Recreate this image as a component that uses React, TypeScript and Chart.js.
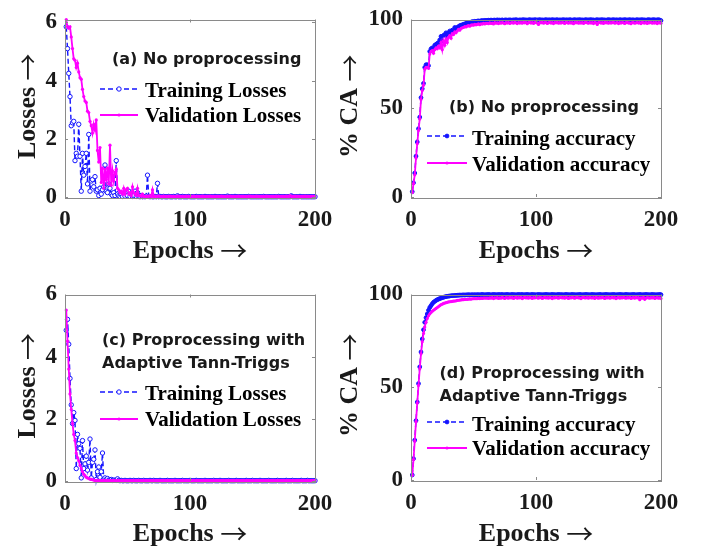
import React, { useEffect, useRef } from "react";
import { Chart, registerables } from "chart.js";
Chart.register(...registerables);

// ---------------- DATA ----------------
const EPOCHS: number[] = Array.from({ length: 200 }, (_, i) => i + 1);
const X_TICKS = [0, 100, 200];
const LOSS_TICKS = [0, 2, 4, 6];
const ACC_TICKS = [0, 50, 100];

const TRAIN_LOSS_A = [
  5.85, 5.10, 4.25, 3.45, 2.45, 2.55, 2.60, 1.25, 1.50, 1.40,
  2.50, 1.40, 0.20, 1.50, 0.75, 1.05, 1.50, 0.45, 2.15, 0.20,
  0.55, 0.60, 0.35, 0.70, 0.20, 0.25, 0.05, 0.30, 0.10, 0.25,
  0.35, 1.10, 0.20, 0.15, 0.45, 0.30, 0.10, 0.05, 0.15, 0.05,
  1.25, 0.10, 0.05, 0.02, 0.08, 0.02, 0.10, 0.03, 0.15, 0.05,
  0.20, 0.02, 0.10, 0.02, 0.05, 0.20, 0.02, 0.15, 0.02, 0.01,
  0.05, 0.01, 0.02, 0.01, 0.03, 0.75, 0.02, 0.01, 0.02, 0.01,
  0.01, 0.02, 0.01, 0.47, 0.01, 0.02, 0.01, 0.01, 0.02, 0.01,
  0.01, 0.01, 0.02, 0.01, 0.01, 0.01, 0.02, 0.01, 0.01, 0.04,
  0.01, 0.01, 0.01, 0.02, 0.01, 0.01, 0.01, 0.01, 0.02, 0.01,
  0.01, 0.01, 0.01, 0.01, 0.02, 0.01, 0.01, 0.01, 0.01, 0.01,
  0.01, 0.02, 0.01, 0.01, 0.01, 0.01, 0.01, 0.01, 0.01, 0.02,
  0.01, 0.01, 0.01, 0.01, 0.01, 0.01, 0.01, 0.01, 0.01, 0.03,
  0.01, 0.01, 0.01, 0.01, 0.01, 0.02, 0.01, 0.01, 0.01, 0.01,
  0.01, 0.01, 0.01, 0.01, 0.01, 0.01, 0.02, 0.01, 0.01, 0.01,
  0.01, 0.01, 0.01, 0.01, 0.01, 0.01, 0.01, 0.01, 0.02, 0.01,
  0.01, 0.01, 0.01, 0.01, 0.01, 0.01, 0.01, 0.01, 0.01, 0.01,
  0.02, 0.01, 0.01, 0.01, 0.01, 0.01, 0.01, 0.01, 0.01, 0.01,
  0.04, 0.01, 0.01, 0.01, 0.01, 0.01, 0.01, 0.02, 0.01, 0.01,
  0.01, 0.01, 0.01, 0.01, 0.01, 0.01, 0.01, 0.01, 0.01, 0.01,
];

const VAL_LOSS_A = [
  6.10, 5.85, 5.80, 5.85, 5.50, 5.10, 4.75, 4.70, 4.45, 4.60,
  4.30, 4.10, 4.05, 3.70, 3.45, 3.30, 3.25, 2.95, 2.90, 2.60,
  2.45, 2.20, 2.50, 2.30, 2.65, 1.60, 1.20, 1.70, 0.50, 1.00,
  0.30, 0.95, 0.60, 1.00, 0.45, 1.78, 0.40, 0.90, 0.55, 0.85,
  0.95, 0.30, 0.25, 0.15, 0.20, 0.10, 0.30, 0.10, 0.25, 0.30,
  0.10, 0.15, 0.05, 0.35, 0.15, 0.10, 0.05, 0.30, 0.05, 0.05,
  0.03, 0.10, 0.03, 0.02, 0.02, 0.03, 0.02, 0.05, 0.02, 0.25,
  0.02, 0.03, 0.02, 0.02, 0.04, 0.02, 0.02, 0.02, 0.03, 0.02,
  0.02, 0.02, 0.02, 0.03, 0.02, 0.02, 0.02, 0.02, 0.02, 0.02,
  0.03, 0.02, 0.02, 0.02, 0.02, 0.02, 0.03, 0.02, 0.02, 0.02,
  0.02, 0.02, 0.03, 0.02, 0.02, 0.02, 0.02, 0.02, 0.02, 0.03,
  0.02, 0.02, 0.02, 0.02, 0.02, 0.03, 0.02, 0.02, 0.02, 0.02,
  0.02, 0.02, 0.02, 0.02, 0.03, 0.02, 0.02, 0.02, 0.02, 0.02,
  0.02, 0.03, 0.02, 0.02, 0.02, 0.02, 0.02, 0.02, 0.03, 0.02,
  0.02, 0.02, 0.02, 0.02, 0.02, 0.02, 0.02, 0.03, 0.02, 0.02,
  0.02, 0.02, 0.03, 0.02, 0.02, 0.02, 0.02, 0.02, 0.02, 0.02,
  0.03, 0.02, 0.02, 0.02, 0.02, 0.02, 0.02, 0.02, 0.03, 0.02,
  0.02, 0.02, 0.02, 0.02, 0.02, 0.02, 0.03, 0.02, 0.02, 0.05,
  0.02, 0.02, 0.02, 0.03, 0.02, 0.02, 0.02, 0.02, 0.02, 0.02,
  0.02, 0.03, 0.02, 0.02, 0.02, 0.02, 0.02, 0.02, 0.02, 0.02,
];

const TRAIN_ACC_B = [
  3.0, 8.0, 13.5, 23.0, 31.0, 38.5, 45.0, 56.0, 61.0, 64.0,
  73.0, 74.5, 74.5, 74.0, 82.0, 83.5, 84.0, 83.5, 85.5, 86.0,
  86.5, 87.0, 88.5, 90.5, 88.0, 91.0, 91.5, 92.5, 90.5, 92.5,
  93.5, 92.0, 94.0, 93.5, 95.5, 94.5, 95.5, 96.0, 96.5, 96.8,
  97.0, 97.3, 97.5, 97.8, 98.0, 98.3, 98.2, 98.5, 98.8, 98.7,
  99.0, 98.9, 99.1, 99.2, 99.0, 99.3, 99.4, 99.3, 99.5, 99.4,
  99.5, 99.6, 99.4, 99.7, 99.5, 99.6, 99.7, 99.5, 99.8, 99.6,
  99.7, 99.6, 99.8, 99.5, 99.7, 99.8, 99.6, 99.7, 99.8, 99.7,
  99.6, 99.8, 99.7, 99.9, 99.7, 99.6, 99.8, 99.7, 99.8, 99.9,
  99.7, 99.8, 99.6, 99.8, 99.9, 99.7, 99.8, 99.7, 99.9, 99.8,
  99.7, 99.8, 99.9, 99.7, 99.8, 99.6, 99.8, 99.9, 99.7, 99.8,
  99.8, 99.7, 99.9, 99.8, 99.7, 99.8, 99.9, 99.6, 99.8, 99.7,
  99.8, 99.9, 99.7, 99.8, 99.8, 99.7, 99.9, 99.8, 99.6, 99.8,
  99.9, 99.7, 99.8, 99.8, 99.9, 99.7, 99.8, 99.6, 99.8, 99.9,
  99.7, 99.8, 99.8, 99.9, 99.7, 99.8, 99.5, 99.8, 99.9, 99.7,
  99.8, 99.8, 99.9, 99.7, 99.8, 99.6, 99.8, 99.9, 99.8, 99.7,
  99.8, 99.9, 99.7, 99.8, 99.8, 99.6, 99.9, 99.8, 99.7, 99.8,
  99.9, 99.8, 99.7, 99.8, 99.9, 99.7, 99.8, 99.8, 99.6, 99.8,
  99.9, 99.7, 99.8, 99.8, 99.9, 99.7, 99.8, 99.6, 99.8, 99.9,
  99.8, 99.7, 99.8, 99.9, 99.8, 99.7, 99.8, 99.9, 99.7, 99.4,
];

const VAL_ACC_B = [
  2.5, 7.5, 12.5, 22.0, 30.0, 37.5, 44.0, 55.0, 60.0, 63.0,
  72.0, 73.0, 73.0, 72.5, 80.5, 82.0, 82.5, 81.0, 83.0, 84.0,
  83.5, 85.0, 84.0, 87.0, 83.0, 88.0, 85.5, 89.0, 87.0, 90.0,
  91.0, 89.5, 92.0, 91.5, 93.0, 92.5, 93.5, 94.5, 94.0, 95.0,
  95.3, 95.5, 96.0, 95.8, 96.3, 96.5, 96.2, 96.8, 97.0, 96.8,
  97.2, 97.0, 97.3, 97.5, 97.1, 97.6, 97.4, 97.8, 97.5, 97.8,
  97.9, 97.6, 98.1, 97.8, 98.0, 97.5, 98.2, 97.9, 98.1, 97.7,
  98.2, 97.9, 98.3, 98.0, 97.6, 98.2, 98.0, 98.3, 97.8, 98.1,
  98.2, 97.9, 98.4, 98.1, 97.7, 98.3, 98.0, 98.2, 97.9, 98.4,
  98.1, 98.3, 97.6, 98.2, 98.4, 98.0, 98.3, 97.8, 98.2, 98.4,
  98.0, 97.2, 98.3, 98.1, 98.4, 97.9, 98.2, 98.3, 97.8, 98.1,
  98.4, 98.0, 98.2, 97.7, 98.3, 98.1, 98.4, 97.9, 98.2, 98.0,
  98.3, 98.1, 97.8, 98.4, 98.2, 97.9, 98.3, 98.0, 98.2, 97.6,
  98.3, 98.1, 98.4, 97.9, 98.2, 98.0, 98.3, 97.8, 98.2, 98.4,
  98.1, 97.9, 98.3, 98.0, 98.2, 97.7, 98.4, 98.1, 97.2, 98.2,
  98.3, 98.0, 98.2, 97.8, 98.4, 98.1, 98.2, 97.9, 98.3, 98.0,
  98.2, 98.4, 97.9, 98.1, 98.3, 97.7, 98.2, 98.0, 98.3, 98.1,
  97.8, 98.2, 98.4, 98.0, 98.1, 97.6, 98.3, 98.2, 97.9, 98.1,
  98.3, 98.0, 98.2, 97.7, 98.4, 98.1, 98.0, 98.3, 97.8, 98.2,
  98.1, 98.3, 97.9, 98.2, 98.0, 98.3, 97.7, 98.2, 98.1, 97.9,
];

const TRAIN_LOSS_C = [
  4.85, 5.20, 4.40, 3.30, 2.45, 1.85, 2.20, 1.95, 0.40, 1.50,
  1.20, 1.05, 0.10, 1.30, 0.40, 0.55, 0.80, 0.35, 0.60, 1.35,
  0.10, 0.60, 0.70, 1.00, 0.05, 0.30, 0.45, 0.12, 0.30, 0.90,
  0.05, 0.10, 0.05, 0.08, 0.03, 0.02, 0.05, 0.02, 0.03, 0.02,
  0.02, 0.07, 0.02, 0.01, 0.02, 0.01, 0.01, 0.02, 0.01, 0.01,
  0.01, 0.02, 0.01, 0.01, 0.02, 0.01, 0.01, 0.01, 0.02, 0.01,
  0.01, 0.01, 0.02, 0.01, 0.01, 0.01, 0.01, 0.02, 0.01, 0.01,
  0.02, 0.01, 0.01, 0.01, 0.01, 0.02, 0.01, 0.01, 0.01, 0.01,
  0.01, 0.02, 0.01, 0.01, 0.01, 0.01, 0.01, 0.02, 0.01, 0.01,
  0.01, 0.01, 0.01, 0.02, 0.01, 0.01, 0.01, 0.01, 0.01, 0.02,
  0.01, 0.01, 0.01, 0.01, 0.02, 0.01, 0.01, 0.01, 0.01, 0.01,
  0.01, 0.02, 0.01, 0.01, 0.01, 0.01, 0.01, 0.01, 0.02, 0.01,
  0.01, 0.01, 0.01, 0.02, 0.01, 0.01, 0.01, 0.01, 0.01, 0.01,
  0.02, 0.01, 0.01, 0.01, 0.01, 0.01, 0.02, 0.01, 0.01, 0.01,
  0.01, 0.01, 0.01, 0.01, 0.02, 0.01, 0.01, 0.01, 0.01, 0.02,
  0.01, 0.01, 0.01, 0.01, 0.01, 0.02, 0.01, 0.01, 0.01, 0.01,
  0.01, 0.01, 0.02, 0.01, 0.01, 0.01, 0.01, 0.01, 0.01, 0.02,
  0.01, 0.01, 0.01, 0.01, 0.01, 0.01, 0.02, 0.01, 0.01, 0.01,
  0.01, 0.02, 0.01, 0.01, 0.01, 0.01, 0.01, 0.01, 0.02, 0.01,
  0.01, 0.01, 0.01, 0.02, 0.01, 0.01, 0.01, 0.01, 0.01, 0.01,
];

const VAL_LOSS_C = [
  5.50, 4.50, 3.60, 2.80, 2.30, 1.85, 1.50, 1.30, 0.90, 0.75,
  0.65, 0.50, 0.40, 0.30, 0.22, 0.17, 0.12, 0.10, 0.08, 0.06,
  0.05, 0.04, 0.03, 0.02, 0.02, 0.02, 0.01, 0.01, 0.01, 0.01,
  0.01, 0.01, 0.01, 0.01, 0.01, 0.01, 0.01, 0.01, 0.01, 0.01,
  0.01, 0.01, 0.01, 0.01, 0.01, 0.01, 0.01, 0.01, 0.01, 0.01,
  0.01, 0.01, 0.01, 0.01, 0.01, 0.01, 0.01, 0.01, 0.01, 0.01,
  0.01, 0.01, 0.01, 0.01, 0.01, 0.01, 0.01, 0.01, 0.01, 0.01,
  0.01, 0.01, 0.01, 0.01, 0.01, 0.01, 0.01, 0.01, 0.01, 0.01,
  0.01, 0.01, 0.01, 0.01, 0.01, 0.01, 0.01, 0.01, 0.01, 0.01,
  0.01, 0.01, 0.01, 0.01, 0.01, 0.01, 0.01, 0.01, 0.01, 0.01,
  0.01, 0.01, 0.01, 0.01, 0.01, 0.01, 0.01, 0.01, 0.01, 0.01,
  0.01, 0.01, 0.01, 0.01, 0.01, 0.01, 0.01, 0.01, 0.01, 0.01,
  0.01, 0.01, 0.01, 0.01, 0.01, 0.01, 0.01, 0.01, 0.01, 0.01,
  0.01, 0.01, 0.01, 0.01, 0.01, 0.01, 0.01, 0.01, 0.01, 0.01,
  0.01, 0.01, 0.01, 0.01, 0.01, 0.01, 0.01, 0.01, 0.01, 0.01,
  0.01, 0.01, 0.01, 0.01, 0.01, 0.01, 0.01, 0.01, 0.01, 0.01,
  0.01, 0.01, 0.01, 0.01, 0.01, 0.01, 0.01, 0.01, 0.01, 0.01,
  0.01, 0.01, 0.01, 0.01, 0.01, 0.01, 0.01, 0.01, 0.01, 0.01,
  0.01, 0.01, 0.01, 0.01, 0.01, 0.01, 0.01, 0.01, 0.01, 0.01,
  0.01, 0.01, 0.01, 0.01, 0.01, 0.01, 0.01, 0.01, 0.01, 0.01,
];

const TRAIN_ACC_D = [
  2.7, 11.5, 21.5, 32.0, 42.0, 52.0, 61.0, 69.0, 76.0, 81.0,
  85.0, 87.5, 89.5, 91.5, 93.0, 94.0, 95.0, 95.8, 96.3, 96.8,
  97.2, 97.5, 97.8, 98.0, 98.3, 98.5, 98.7, 98.9, 99.0, 99.1,
  99.2, 99.3, 99.4, 99.4, 99.5, 99.5, 99.6, 99.6, 99.7, 99.7,
  99.7, 99.8, 99.7, 99.8, 99.8, 99.9, 99.8, 99.8, 99.9, 99.8,
  99.9, 99.8, 99.9, 99.9, 99.8, 99.9, 100.0, 99.9, 99.8, 99.9,
  99.9, 100.0, 99.9, 99.8, 99.9, 100.0, 99.9, 99.9, 99.8, 100.0,
  99.9, 99.9, 100.0, 99.8, 99.9, 99.9, 100.0, 99.9, 99.8, 99.9,
  100.0, 99.9, 99.9, 99.8, 99.9, 100.0, 99.9, 99.9, 100.0, 99.8,
  99.9, 99.9, 100.0, 99.9, 99.8, 99.9, 100.0, 99.9, 99.9, 99.8,
  99.9, 100.0, 99.9, 99.9, 99.8, 99.9, 99.9, 100.0, 99.9, 99.9,
  99.8, 99.9, 100.0, 99.9, 99.9, 99.8, 99.9, 100.0, 99.9, 99.9,
  99.9, 99.8, 99.9, 100.0, 99.9, 99.9, 99.8, 99.9, 100.0, 99.9,
  99.9, 99.8, 99.9, 99.9, 100.0, 99.9, 99.8, 99.9, 99.9, 100.0,
  99.9, 99.9, 99.8, 99.9, 100.0, 99.9, 99.9, 99.8, 99.9, 99.9,
  100.0, 99.9, 99.8, 99.9, 99.9, 100.0, 99.9, 99.9, 99.8, 99.9,
  99.9, 100.0, 99.9, 99.8, 99.9, 99.9, 100.0, 99.9, 99.9, 99.8,
  99.9, 100.0, 99.9, 99.9, 99.8, 99.9, 99.9, 100.0, 99.9, 99.8,
  99.9, 99.9, 100.0, 99.9, 99.8, 99.9, 99.9, 100.0, 99.9, 99.9,
  99.8, 99.9, 100.0, 99.9, 99.9, 99.8, 99.9, 99.9, 100.0, 99.9,
];

const VAL_ACC_D = [
  2.5, 11.0, 21.0, 31.5, 41.5, 51.0, 60.0, 68.0, 74.5, 79.0,
  82.5, 85.0, 87.0, 88.5, 89.5, 90.3, 91.0, 91.5, 92.0, 92.5,
  93.0, 93.5, 94.0, 94.5, 94.8, 95.2, 95.4, 95.6, 95.8, 96.0,
  96.1, 96.2, 96.3, 96.4, 96.5, 96.6, 96.8, 96.9, 97.0, 97.1,
  97.2, 97.2, 97.3, 97.4, 97.4, 97.5, 97.6, 97.5, 97.7, 97.7,
  97.8, 97.7, 97.8, 97.9, 97.8, 98.0, 97.9, 98.0, 98.1, 98.0,
  98.1, 97.9, 98.2, 98.0, 98.3, 97.8, 98.2, 98.1, 98.3, 97.9,
  98.2, 98.0, 98.4, 98.1, 97.9, 98.3, 98.2, 98.0, 98.4, 98.1,
  98.3, 97.9, 98.2, 98.4, 98.0, 98.3, 98.1, 98.4, 97.8, 98.2,
  98.4, 98.1, 98.3, 98.0, 98.4, 98.2, 97.9, 98.3, 98.1, 98.4,
  98.2, 98.0, 98.4, 98.3, 97.9, 98.2, 98.4, 98.1, 98.3, 98.0,
  98.4, 98.2, 97.8, 98.3, 98.1, 98.4, 98.2, 98.0, 98.3, 98.4,
  98.1, 98.3, 98.0, 98.4, 98.2, 97.9, 98.3, 98.1, 98.4, 98.2,
  98.0, 98.3, 98.4, 98.1, 98.2, 97.8, 98.3, 98.4, 98.1, 98.2,
  98.3, 98.0, 98.4, 98.2, 98.1, 98.3, 97.9, 98.4, 98.2, 98.0,
  98.3, 98.1, 98.4, 98.2, 97.9, 98.3, 98.1, 98.4, 98.0, 98.2,
  98.4, 98.1, 98.3, 97.8, 98.2, 98.4, 98.0, 98.3, 98.1, 98.4,
  98.2, 98.0, 98.3, 98.1, 98.4, 97.9, 98.2, 98.3, 98.0, 98.4,
  98.1, 98.3, 97.2, 98.2, 98.0, 98.4, 97.4, 98.1, 98.3, 98.2,
  98.0, 98.3, 98.1, 98.4, 97.9, 98.2, 98.3, 98.0, 98.2, 97.8,
];

// ---------------- STYLE / LAYOUT ----------------
const BLUE = "#1414ff";
const MAGENTA = "#ff00ff";
const TEXT = "#1a1a1a";
const FRAME = "#8a8a8a";
const SERIF = '"Liberation Serif", "Times New Roman", serif';
const SANS = '"DejaVu Sans", "Liberation Sans", sans-serif';
const ARROW_FONT = '27px "Noto Sans CJK JP", "DejaVu Sans", sans-serif';
const ARROW = "\u2192";

type PanelCfg = {
  box: { left: number; top: number; width: number; height: number };
  area: { l: number; r: number; t: number; b: number };
  yMax: number;
  yTicks: number[];
  yTitle: string;
  yTitleBase: number;
  xTitleBase: number;
  train: number[];
  val: number[];
  trainLabel: string;
  valLabel: string;
  openMarker: boolean;
  note: string[];
  noteX: number;
  noteY: number[];
  legX0: number;
  legX1: number;
  legTextX: number;
  legRows: { lineY: number; baseY: number }[];
};

const PANELS: PanelCfg[] = [
  {
    box: { left: 0, top: 0, width: 351, height: 275 },
    area: { l: 65, r: 315, t: 13, b: 197 },
    yMax: 6.1, yTicks: LOSS_TICKS, yTitle: "Losses", yTitleBase: 35, xTitleBase: 258,
    train: TRAIN_LOSS_A, val: VAL_LOSS_A,
    trainLabel: "Training Losses", valLabel: "Validation Losses", openMarker: true,
    note: ["(a) No proprocessing"], noteX: 112, noteY: [64],
    legX0: 100, legX1: 138, legTextX: 145,
    legRows: [{ lineY: 89, baseY: 97 }, { lineY: 115, baseY: 122 }],
  },
  {
    box: { left: 330, top: 0, width: 372, height: 275 },
    area: { l: 411, r: 661, t: 12, b: 197 },
    yMax: 100, yTicks: ACC_TICKS, yTitle: "% CA", yTitleBase: 357, xTitleBase: 258,
    train: TRAIN_ACC_B, val: VAL_ACC_B,
    trainLabel: "Training accuracy", valLabel: "Validation accuracy", openMarker: false,
    note: ["(b) No proprocessing"], noteX: 449, noteY: [112],
    legX0: 427, legX1: 467, legTextX: 472,
    legRows: [{ lineY: 136, baseY: 145 }, { lineY: 163, baseY: 171 }],
  },
  {
    box: { left: 0, top: 275, width: 351, height: 275 },
    area: { l: 65, r: 315, t: 294, b: 481 },
    yMax: 6, yTicks: LOSS_TICKS, yTitle: "Losses", yTitleBase: 35, xTitleBase: 541,
    train: TRAIN_LOSS_C, val: VAL_LOSS_C,
    trainLabel: "Training Losses", valLabel: "Validation Losses", openMarker: true,
    note: ["(c) Proprocessing with", "Adaptive Tann-Triggs"], noteX: 102, noteY: [344.5, 367.7],
    legX0: 100, legX1: 138, legTextX: 145,
    legRows: [{ lineY: 392, baseY: 400 }, { lineY: 419, baseY: 426 }],
  },
  {
    box: { left: 330, top: 275, width: 372, height: 275 },
    area: { l: 411, r: 661, t: 293, b: 480 },
    yMax: 100, yTicks: ACC_TICKS, yTitle: "% CA", yTitleBase: 357, xTitleBase: 541,
    train: TRAIN_ACC_D, val: VAL_ACC_D,
    trainLabel: "Training accuracy", valLabel: "Validation accuracy", openMarker: false,
    note: ["(d) Proprocessing with", "Adaptive Tann-Triggs"], noteX: 439.5, noteY: [378.3, 401],
    legX0: 427, legX1: 467, legTextX: 472,
    legRows: [{ lineY: 422, baseY: 431 }, { lineY: 448, baseY: 455 }],
  },
];

const TICK_FONT = 23;
const TITLE_FONT = `bold 26px ${SERIF}`;

// draws "word →" centred at cx along the baseline (in the current transform)
function drawTitle(ctx: CanvasRenderingContext2D, word: string, cx: number, base: number) {
  ctx.font = TITLE_FONT;
  const w1 = ctx.measureText(word + " ").width;
  ctx.font = ARROW_FONT;
  const w2 = ctx.measureText(ARROW).width;
  const x0 = cx - (w1 + w2) / 2;
  ctx.textAlign = "left";
  ctx.textBaseline = "alphabetic";
  ctx.font = TITLE_FONT;
  ctx.fillText(word + " ", x0, base);
  ctx.font = ARROW_FONT;
  ctx.fillText(ARROW, x0 + w1, base + 3);
}

function PanelChart({ p }: { p: PanelCfg }) {
  const ref = useRef<HTMLCanvasElement>(null);
  useEffect(() => {
    const canvas = ref.current!;
    const ox = p.box.left;
    const oy = p.box.top;
    const yW = p.area.l - ox;
    const xH = oy + p.box.height - p.area.b;
    const padTop = p.area.t - oy;
    const padRight = ox + p.box.width - p.area.r;

    const overlay = {
      id: "matlabDecor",
      afterDatasetsDraw(chart: any) {
        const ctx = chart.ctx as CanvasRenderingContext2D;
        const a = chart.chartArea;
        const xs = chart.scales.x;
        const ys = chart.scales.y;
        ctx.save();
        // frame
        ctx.strokeStyle = FRAME;
        ctx.lineWidth = 1;
        ctx.setLineDash([]);
        ctx.strokeRect(Math.round(a.left) + 0.5, Math.round(a.top) + 0.5, Math.round(a.right - a.left), Math.round(a.bottom - a.top));
        // inward ticks
        const tl = 3;
        ctx.beginPath();
        X_TICKS.forEach((v) => {
          const px = Math.round(xs.getPixelForValue(v)) + 0.5;
          ctx.moveTo(px, a.bottom); ctx.lineTo(px, a.bottom - tl);
          ctx.moveTo(px, a.top); ctx.lineTo(px, a.top + tl);
        });
        p.yTicks.forEach((v) => {
          const py = Math.round(ys.getPixelForValue(v)) + 0.5;
          ctx.moveTo(a.left, py); ctx.lineTo(a.left + tl, py);
          ctx.moveTo(a.right, py); ctx.lineTo(a.right - tl, py);
        });
        ctx.stroke();

        // axis titles
        ctx.fillStyle = TEXT;
        drawTitle(ctx, "Epochs", (a.left + a.right) / 2, p.xTitleBase - oy);
        ctx.save();
        ctx.translate(p.yTitleBase - ox, (a.top + a.bottom) / 2 - 2);
        ctx.rotate(-Math.PI / 2);
        drawTitle(ctx, p.yTitle, 0, 0);
        ctx.restore();

        // annotation text
        ctx.fillStyle = TEXT;
        ctx.font = `bold 16px ${SANS}`;
        ctx.textBaseline = "alphabetic";
        ctx.textAlign = "left";
        p.note.forEach((t, i) => ctx.fillText(t, p.noteX - ox, p.noteY[i] - oy));

        // legend
        const ds = chart.data.datasets;
        const x0 = p.legX0 - ox, x1 = p.legX1 - ox, tx = p.legTextX - ox;
        [0, 1].forEach((k) => {
          const d = ds[k];
          const row = p.legRows[k];
          const ly = row.lineY - oy;
          ctx.strokeStyle = d.borderColor;
          ctx.lineWidth = d.borderWidth;
          ctx.setLineDash(d.borderDash || []);
          ctx.beginPath();
          ctx.moveTo(x0, ly); ctx.lineTo(x1, ly);
          ctx.stroke();
          ctx.setLineDash([]);
          ctx.beginPath();
          ctx.arc((x0 + x1) / 2, ly, d.pointRadius, 0, Math.PI * 2);
          ctx.fillStyle = d.pointBackgroundColor;
          ctx.fill();
          if (d.pointBorderWidth > 0) {
            ctx.lineWidth = d.pointBorderWidth;
            ctx.strokeStyle = d.pointBorderColor;
            ctx.stroke();
          }
          ctx.fillStyle = "#000";
          ctx.font = `bold 21px ${SERIF}`;
          ctx.fillText(d.label, tx, row.baseY - oy);
        });
        ctx.restore();
      },
    };

    const chart = new Chart(canvas, {
      type: "line",
      data: {
        datasets: [
          {
            label: p.trainLabel,
            data: EPOCHS.map((x, i) => ({ x, y: p.train[i] })),
            borderColor: BLUE,
            borderWidth: 1.4,
            borderDash: [5, 3],
            pointRadius: p.openMarker ? 2.2 : 1.9,
            pointBackgroundColor: p.openMarker ? "#ffffff" : BLUE,
            pointBorderColor: BLUE,
            pointBorderWidth: 1,
            tension: 0,
            order: 1,
            clip: false,
          } as any,
          {
            label: p.valLabel,
            data: EPOCHS.map((x, i) => ({ x, y: p.val[i] })),
            borderColor: MAGENTA,
            borderWidth: 1.8,
            pointRadius: 1.6,
            pointBackgroundColor: MAGENTA,
            pointBorderColor: MAGENTA,
            pointBorderWidth: 0,
            tension: 0,
            order: 0,
            clip: false,
          } as any,
        ],
      },
      options: {
        animation: false,
        responsive: false,
        devicePixelRatio: 1,
        events: [],
        layout: { padding: { top: padTop, right: padRight, left: 0, bottom: 0 } },
        plugins: { legend: { display: false }, tooltip: { enabled: false } },
        scales: {
          x: {
            type: "linear",
            min: 0,
            max: 200,
            grid: { display: false, drawTicks: false },
            border: { display: false },
            afterBuildTicks: (s: any) => { s.ticks = X_TICKS.map((v) => ({ value: v })); },
            afterFit: (s: any) => { s.height = xH; },
            ticks: {
              padding: 12,
              maxRotation: 0,
              autoSkip: false,
              color: TEXT,
              font: { family: SERIF, size: TICK_FONT, weight: "bold", lineHeight: 1 },
            },
            title: { display: false },
          },
          y: {
            type: "linear",
            min: 0,
            max: p.yMax,
            grid: { display: false, drawTicks: false },
            border: { display: false },
            afterBuildTicks: (s: any) => { s.ticks = p.yTicks.map((v) => ({ value: v })); },
            afterFit: (s: any) => { s.width = yW; },
            ticks: {
              padding: 8,
              autoSkip: false,
              color: TEXT,
              font: { family: SERIF, size: TICK_FONT, weight: "bold", lineHeight: 1 },
            },
            title: { display: false },
          },
        },
      },
      plugins: [overlay],
    } as any);
    return () => chart.destroy();
  }, [p]);

  return (
    <canvas
      ref={ref}
      width={p.box.width}
      height={p.box.height}
      style={{ position: "absolute", left: p.box.left, top: p.box.top, width: p.box.width, height: p.box.height }}
    />
  );
}

export default function App() {
  return (
    <div style={{ position: "absolute", left: 0, top: 0, width: 702, height: 550, background: "#ffffff", overflow: "hidden" }}>
      {PANELS.map((p, i) => (
        <PanelChart key={i} p={p} />
      ))}
    </div>
  );
}
